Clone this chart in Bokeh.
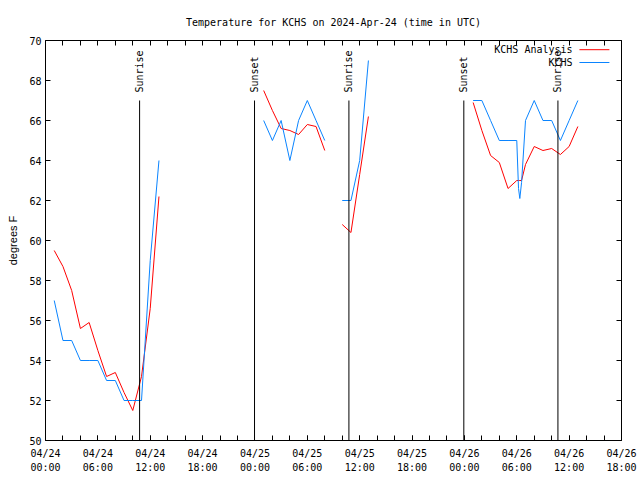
import numpy as np
import pandas as pd
from math import pi
from bokeh.plotting import figure
from bokeh.models import (FixedTicker, DatetimeTickFormatter, DatetimeAxis, LinearAxis,
                          Range1d)
from bokeh.core.properties import value
from bokeh.embed import file_html
from bokeh.resources import INLINE

# ---------------- data ----------------
title_text = "Temperature for KCHS on 2024-Apr-24 (time in UTC)"
y_label = "degrees F"
base_time = "2024-04-24 00:00"
span_hours = 66

# observation times, hours after 2024-04-24 00:00 UTC, by continuous segment
seg_hours = [
    [1, 2, 3, 4, 5, 6, 7, 8, 9, 10, 11, 12, 13],
    [25, 26, 27, 28, 29, 30, 31, 32],
    [34, 35, 36, 37],
    [49, 50, 51, 52, 53, 54, 54.2, 54.35, 54.55, 55, 56, 57, 58, 59, 60, 61],
]
analysis_f = [
    [59.5, 58.7, 57.5, 55.6, 55.9, 54.5, 53.2, 53.4, 52.4, 51.5, 53.2, 56.6, 62.2],
    [67.5, 66.5, 65.6, 65.5, 65.3, 65.8, 65.7, 64.5],
    [60.8, 60.4, 63.3, 66.2],
    [66.9, 65.5, 64.25, 63.9, 62.6, 63.0, 63.0, 63.0, 63.0, 63.8, 64.7, 64.5, 64.6, 64.3, 64.7, 65.7],
]
kchs_f = [
    [57, 55, 55, 54, 54, 54, 53, 53, 52, 52, 52, 59, 64],
    [66, 65, 66, 64, 66, 67, 66, 65],
    [62, 62, 64, 69],
    [67, 67, 66, 65, 65, 65, 62.6, 62.1, 62.9, 66, 67, 66, 66, 65, 66, 67],
]
sun_times = ["2024-04-24 10:47", "2024-04-24 23:57", "2024-04-25 10:46",
             "2024-04-25 23:56", "2024-04-26 10:43"]
sun_labels = ["Sunrise", "Sunset", "Sunrise", "Sunset", "Sunrise"]
series_names = ["KCHS Analysis", "KCHS"]
y_min, y_max, y_step = 50, 70, 2

# ---------------- build ----------------
t0 = pd.Timestamp(base_time)
t1 = t0 + pd.Timedelta(hours=span_hours)


def joined(hours_segs, vals_segs):
    xs, ys = [], []
    for i, (hs, vs) in enumerate(zip(hours_segs, vals_segs)):
        if i > 0:
            xs.append(xs[-1])
            ys.append(np.nan)
        xs.extend([t0 + pd.Timedelta(hours=h) for h in hs])
        ys.extend(vs)
    return pd.to_datetime(xs), np.array(ys, dtype=float)


mono = "DejaVu Sans Mono"
red = "#ff0000"
blue = "#0a84ff"

p = figure(width=640, height=480, frame_width=576, frame_height=400,
           x_axis_type="datetime", output_backend="svg", toolbar_location=None,
           x_range=Range1d(t0, t1), y_range=Range1d(y_min, y_max),
           min_border_left=45, min_border_right=19, min_border_top=40,
           min_border_bottom=40, title=title_text)
p.background_fill_color = "white"
p.border_fill_color = "white"
p.outline_line_color = "black"
p.outline_line_width = 1
p.xgrid.visible = False
p.ygrid.visible = False

p.title.text_font = mono
p.title.text_font_size = "10px"
p.title.text_font_style = "normal"
p.title.text_color = "black"
p.title.align = "center"
p.title.standoff = 25

ms0 = t0.value // 10**6
hour_ms = 3600 * 1000
major = [ms0 + i * 6 * hour_ms for i in range(span_hours // 6 + 1)]
minor = [ms0 + i * 2 * hour_ms for i in range(span_hours // 2 + 1)]
xticker = FixedTicker(ticks=major, minor_ticks=minor)
fmt = "%m/%d\n%H:%M"
xfmt = DatetimeTickFormatter(microseconds=fmt, milliseconds=fmt, seconds=fmt,
                             minsec=fmt, minutes=fmt, hourmin=fmt, hours=fmt,
                             days=fmt, months=fmt, years=fmt)
yticks = list(range(y_min, y_max + 1, y_step))
yticker = FixedTicker(ticks=yticks, minor_ticks=[])


def style_axis(ax):
    ax.axis_line_color = None
    ax.major_tick_in = 5
    ax.major_tick_out = 0
    ax.minor_tick_in = 5
    ax.minor_tick_out = 0
    ax.major_tick_line_color = "black"
    ax.minor_tick_line_color = "black"
    ax.major_label_text_font = mono
    ax.major_label_text_font_size = "10px"
    ax.major_label_text_color = "black"


xa = p.xaxis[0]
xa.ticker = xticker
xa.formatter = xfmt
style_axis(xa)
xa.major_label_standoff = 7
xa.major_label_text_line_height = 1.35

ya = p.yaxis[0]
ya.ticker = yticker
style_axis(ya)
ya.major_label_standoff = 4
ya.axis_label = y_label
ya.axis_label_text_font = "Liberation Sans"
ya.axis_label_text_font_size = "11px"
ya.axis_label_text_font_style = "normal"
ya.axis_label_text_color = "black"
ya.axis_label_standoff = 7

# mirrored ticks on top / right: drawn as unlabeled (minor) ticks
top = DatetimeAxis(ticker=FixedTicker(ticks=[], minor_ticks=minor))
style_axis(top)
top.major_label_standoff = 0
p.add_layout(top, "above")
right = LinearAxis(ticker=FixedTicker(ticks=[], minor_ticks=yticks))
style_axis(right)
right.major_label_standoff = 0
p.add_layout(right, "right")

# series
xr, yr = joined(seg_hours, analysis_f)
xb, yb = joined(seg_hours, kchs_f)
p.line(xr, yr, line_color=red, line_width=1)
p.line(xb, yb, line_color=blue, line_width=1)

# sunrise / sunset markers
st = pd.to_datetime(sun_times)
line_top = y_min + 0.85 * (y_max - y_min)
p.segment(x0=st, y0=[y_min] * len(st), x1=st, y1=[line_top] * len(st),
          line_color="black", line_width=1)
p.text(x=st, y=[line_top + 0.4] * len(st), text=sun_labels, angle=pi / 2,
       text_align="left", text_baseline="middle", text_font=value(mono),
       text_font_size="10px", text_color="black")

# key (top right, text left of sample)
span = t1 - t0
key_text_x = t0 + span * 0.915
key_x0 = t0 + span * 0.927
key_x1 = t0 + span * 0.979
key_rows = [y_min + 0.977 * (y_max - y_min), y_min + 0.945 * (y_max - y_min)]
p.text(x=[key_text_x] * 2, y=key_rows, text=series_names, text_align="right",
       text_baseline="middle", text_font=value(mono), text_font_size="10px",
       text_color="black")
p.segment(x0=[key_x0], y0=[key_rows[0]], x1=[key_x1], y1=[key_rows[0]],
          line_color=red, line_width=1)
p.segment(x0=[key_x0], y0=[key_rows[1]], x1=[key_x1], y1=[key_rows[1]],
          line_color=blue, line_width=1)

open("out.html", "w").write(file_html(p, INLINE))
